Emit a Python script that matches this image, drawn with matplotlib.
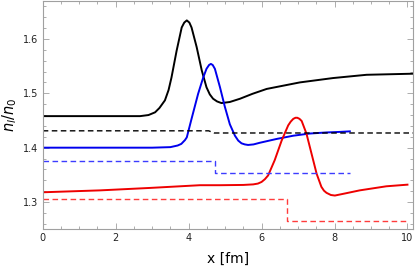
import numpy as np
import matplotlib.pyplot as plt
from matplotlib.ticker import MultipleLocator

# solid curves
x_black = [0, 1, 2, 2.67, 2.9, 3.08, 3.2, 3.35, 3.45, 3.53, 3.67, 3.81, 3.88, 3.95, 4.02, 4.08, 4.22,
           4.36, 4.49, 4.58, 4.67, 4.78, 4.90, 5.13, 5.41, 5.75, 6.14, 7.05, 7.96, 8.88, 10.15]
y_black = [1.458, 1.458, 1.458, 1.458, 1.460, 1.465, 1.473, 1.487, 1.506, 1.529, 1.578, 1.621, 1.630,
           1.634, 1.630, 1.621, 1.585, 1.542, 1.511, 1.498, 1.490, 1.485, 1.482, 1.484, 1.490, 1.499,
           1.508, 1.520, 1.528, 1.534, 1.536]

x_blue = [0, 1, 2, 3, 3.5, 3.7, 3.8, 3.9, 3.95, 4.08, 4.26, 4.40, 4.49, 4.56, 4.61, 4.66, 4.72, 4.86,
          4.99, 5.13, 5.27, 5.36, 5.45, 5.54, 5.63, 5.78, 5.95, 6.41, 6.87, 7.32, 7.78, 8.15, 8.42]
y_blue = [1.400, 1.400, 1.400, 1.400, 1.401, 1.404, 1.407, 1.414, 1.419, 1.453, 1.499, 1.529, 1.545,
          1.552, 1.554, 1.552, 1.545, 1.511, 1.476, 1.443, 1.422, 1.413, 1.408, 1.406, 1.405, 1.406,
          1.409, 1.416, 1.422, 1.426, 1.428, 1.429, 1.430]

x_red = [0, 1.57, 2.94, 4.31, 4.86, 5.5, 5.77, 5.9, 6.0, 6.09, 6.18, 6.36, 6.55, 6.73, 6.80, 6.87,
         6.93, 6.98, 7.04, 7.10, 7.23, 7.37, 7.51, 7.64, 7.71, 7.78, 7.9, 8.01, 8.3, 8.69, 9.42, 10.0]
y_red = [1.318, 1.3215, 1.326, 1.331, 1.331, 1.3315, 1.3325, 1.334, 1.337, 1.342, 1.349, 1.377, 1.413,
         1.441, 1.448, 1.453, 1.455, 1.455, 1.453, 1.449, 1.426, 1.389, 1.352, 1.328, 1.321, 1.317,
         1.313, 1.312, 1.316, 1.3215, 1.329, 1.332]

# dashed step lines
x_black_d = [0, 4.55, 4.7, 10.15]
y_black_d = [1.431, 1.431, 1.427, 1.427]
x_blue_d = [0, 4.72, 4.72, 8.42]
y_blue_d = [1.375, 1.375, 1.354, 1.354]
x_red_d = [0, 6.71, 6.71, 10.0]
y_red_d = [1.306, 1.306, 1.265, 1.265]

fig = plt.figure(figsize=(4.15, 2.71), dpi=100)
ax = fig.add_axes([0.103, 0.154, 0.892, 0.843])

ax.plot(x_black, y_black, color="black", lw=1.4)
ax.plot(x_blue, y_blue, color="#0000ee", lw=1.4)
ax.plot(x_red, y_red, color="#ee0000", lw=1.4)

ax.plot(x_black_d, y_black_d, color="black", lw=1.0, dashes=(4, 2.5))
ax.plot(x_blue_d, y_blue_d, color="#3c3cff", lw=1.0, dashes=(4, 2.5))
ax.plot(x_red_d, y_red_d, color="#ff3c3c", lw=1.0, dashes=(4, 2.5))

ax.set_xlim(0, 10.15)
ax.set_ylim(1.25, 1.67)
ax.xaxis.set_major_locator(MultipleLocator(2))
ax.xaxis.set_minor_locator(MultipleLocator(0.5))
ax.yaxis.set_major_locator(MultipleLocator(0.1))
ax.yaxis.set_minor_locator(MultipleLocator(0.02))
ax.yaxis.set_major_formatter(plt.FuncFormatter(lambda v, p: "%.1f" % v))

gray = "#a0a0a0"
for s in ax.spines.values():
    s.set_color(gray)
    s.set_linewidth(0.8)
ax.tick_params(which="both", direction="in", top=True, right=True, color=gray,
               labelsize=7, labelcolor="#222222", width=0.6)
ax.tick_params(which="major", length=4, pad=3)
ax.tick_params(which="minor", length=2)

ax.set_xlabel("x [fm]", fontsize=10, labelpad=6)
ax.set_ylabel(r"$n_l/n_0$", fontsize=10.5, labelpad=3)

fig.savefig("out.png", dpi=100)
